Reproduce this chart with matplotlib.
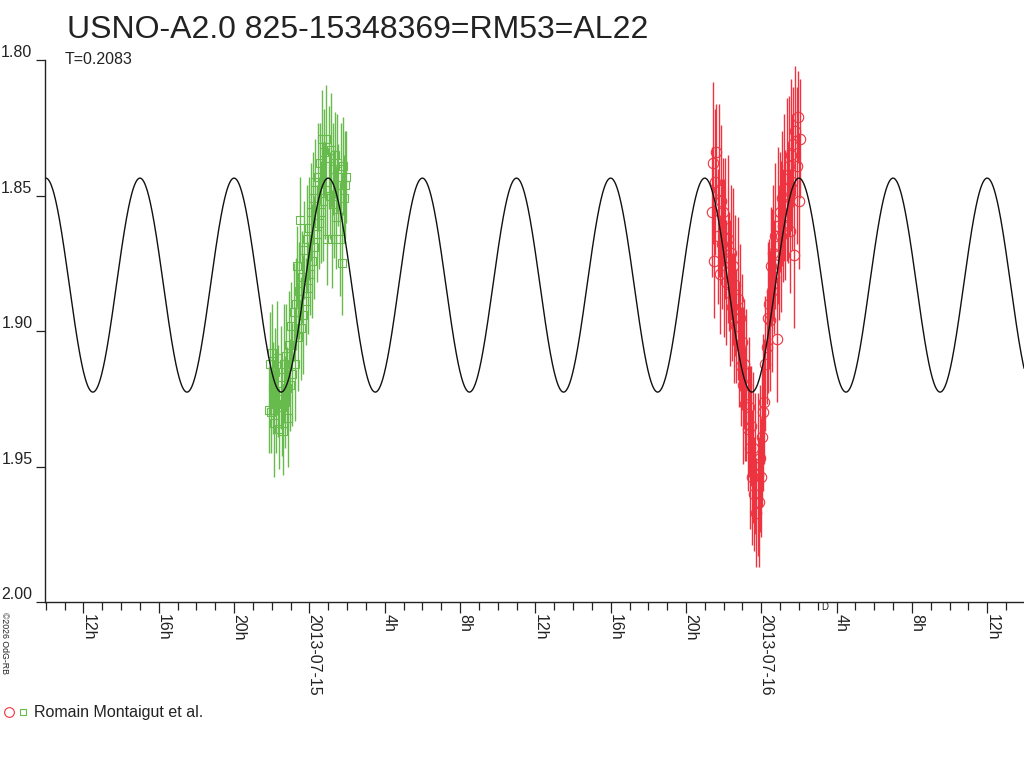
import numpy as np
import matplotlib
matplotlib.use("Agg")
import matplotlib.pyplot as plt
from matplotlib.ticker import FixedLocator
from matplotlib.lines import Line2D
from matplotlib.legend_handler import HandlerTuple

plt.rcParams['font.family'] = ['Liberation Sans', 'DejaVu Sans']

# ---------------- text ----------------
TITLE = "USNO-A2.0 825-15348369=RM53=AL22"
PERIOD_LABEL = "T=0.2083"
OBSERVER = "Romain Montaigut et al."
COPYRIGHT = "\u00a92026 OdG-RB"

# ---------------- model (sinusoid with period T) ----------------
period_days = 0.2083
model_mean = 1.8830
model_amp = 0.0395
model_peak_hour = 1.0   # hours after 2013-07-15 00:00 UT of a brightness maximum

# ---------------- data: hours after 2013-07-15 00:00 UT ----------------
green_t = [-2.17, -2.11, -2.05, -2.00, -1.94, -1.88, -1.82, -1.77, -1.71, -1.65,
           -1.59, -1.53, -1.48, -1.42, -1.36, -1.30, -1.24, -1.19, -1.13, -1.07,
           -1.01, -0.95, -0.90, -0.84, -0.78, -0.72, -0.66, -0.61, -0.55, -0.49,
           -0.43, -0.37, -0.32, -0.26, -0.20, -0.14, -0.08, -0.03, 0.03, 0.09,
           0.15, 0.21, 0.26, 0.32, 0.38, 0.44, 0.50, 0.55, 0.61, 0.67,
           0.73, 0.79, 0.84, 0.90, 0.96, 1.02, 1.08, 1.13, 1.19, 1.25,
           1.31, 1.37, 1.42, 1.48, 1.54, 1.60, 1.66, 1.71, 1.77, 1.83,
           1.89, 1.95]
green_mag = [1.929, 1.912, 1.930, 1.908, 1.921, 1.934, 1.915, 1.927, 1.910, 1.922,
             1.936, 1.917, 1.928, 1.937, 1.912, 1.926, 1.909, 1.921, 1.932, 1.905,
             1.920, 1.898, 1.916, 1.893, 1.912, 1.890, 1.876, 1.902, 1.885, 1.859,
             1.899, 1.880, 1.894, 1.870, 1.889, 1.866, 1.884, 1.862, 1.879, 1.856,
             1.874, 1.851, 1.869, 1.845, 1.864, 1.843, 1.860, 1.838, 1.856, 1.829,
             1.852, 1.834, 1.848, 1.829, 1.866, 1.836, 1.850, 1.833, 1.866, 1.840,
             1.853, 1.835, 1.858, 1.838, 1.846, 1.866, 1.840, 1.875, 1.839, 1.851,
             1.846, 1.843]
green_err = [0.016, 0.019, 0.015, 0.018, 0.017, 0.020, 0.016, 0.018, 0.021, 0.017,
             0.015, 0.019, 0.018, 0.016, 0.022, 0.017, 0.019, 0.015, 0.018, 0.020,
             0.017, 0.016, 0.019, 0.018, 0.021, 0.017, 0.015, 0.020, 0.018, 0.016,
             0.019, 0.017, 0.022, 0.018, 0.016, 0.020, 0.017, 0.019, 0.015, 0.018,
             0.021, 0.017, 0.019, 0.016, 0.018, 0.020, 0.017, 0.015, 0.019, 0.018,
             0.022, 0.016, 0.018, 0.020, 0.017, 0.019, 0.016, 0.021, 0.018, 0.017,
             0.020, 0.016, 0.019, 0.018, 0.015, 0.021, 0.017, 0.019, 0.018, 0.016,
             0.020, 0.017]

red_t = [21.38, 21.44, 21.50, 21.56, 21.62, 21.68, 21.74, 21.79, 21.85, 21.91,
         21.97, 22.03, 22.09, 22.15, 22.21, 22.27, 22.33, 22.39, 22.44, 22.50,
         22.56, 22.62, 22.68, 22.74, 22.80, 22.86, 22.92, 22.98, 23.04, 23.09,
         23.15, 23.21, 23.27, 23.33, 23.39, 23.45, 23.51, 23.57, 23.63, 23.69,
         23.74, 23.80, 23.86, 23.92, 23.98, 24.04, 24.10, 24.16, 24.22, 24.28,
         24.34, 24.39, 24.45, 24.51, 24.57, 24.63, 24.69, 24.75, 24.81, 24.87,
         24.93, 24.99, 25.04, 25.10, 25.16, 25.22, 25.28, 25.34, 25.40, 25.46,
         25.52, 25.58, 25.64, 25.69, 25.75, 25.81, 25.87, 25.93, 25.99, 26.05]
red_mag = [1.856, 1.838, 1.874, 1.845, 1.834, 1.865, 1.848, 1.879, 1.852, 1.868,
           1.856, 1.873, 1.862, 1.882, 1.866, 1.878, 1.886, 1.871, 1.891, 1.876,
           1.895, 1.883, 1.898, 1.888, 1.905, 1.895, 1.913, 1.904, 1.920, 1.912,
           1.927, 1.920, 1.936, 1.928, 1.943, 1.935, 1.954, 1.943, 1.960, 1.949,
           1.967, 1.953, 1.963, 1.947, 1.954, 1.939, 1.930, 1.926, 1.912, 1.906,
           1.895, 1.890, 1.896, 1.876, 1.885, 1.871, 1.880, 1.865, 1.903, 1.861,
           1.872, 1.856, 1.865, 1.851, 1.861, 1.847, 1.857, 1.844, 1.853, 1.839,
           1.863, 1.835, 1.845, 1.831, 1.872, 1.826, 1.839, 1.821, 1.852, 1.829]
red_err = [0.024, 0.030, 0.021, 0.027, 0.018, 0.025, 0.032, 0.022, 0.028, 0.024,
           0.020, 0.029, 0.026, 0.023, 0.031, 0.022, 0.027, 0.025, 0.020, 0.029,
           0.024, 0.026, 0.021, 0.030, 0.023, 0.027, 0.022, 0.025, 0.029, 0.024,
           0.021, 0.028, 0.023, 0.026, 0.030, 0.022, 0.025, 0.028, 0.021, 0.026,
           0.020, 0.030, 0.024, 0.027, 0.022, 0.026, 0.029, 0.023, 0.025, 0.021,
           0.028, 0.024, 0.026, 0.022, 0.030, 0.025, 0.021, 0.027, 0.023, 0.029,
           0.024, 0.022, 0.028, 0.025, 0.021, 0.027, 0.024, 0.030, 0.022, 0.026,
           0.023, 0.028, 0.025, 0.021, 0.027, 0.024, 0.029, 0.017, 0.025, 0.022]

# ---------------- axis ticks ----------------
x_major_hours = [-12, -8, -4, 0, 4, 8, 12, 16, 20, 24, 28, 32, 36]
x_major_labels = ["12h", "16h", "20h", "2013-07-15", "4h", "8h", "12h",
                  "16h", "20h", "2013-07-16", "4h", "8h", "12h"]
x_minor_hours = list(range(-14, 38))
y_ticks = [1.80, 1.85, 1.90, 1.95, 2.00]
y_labels = ["1.80", "1.85", "1.90", "1.95", "2.00"]
x_range = (-14.04, 37.95)
y_range = (2.00, 1.80)

GREEN = "#66bb4c"
RED = "#ee3340"
TXT = "#222222"

W, H = 1024, 768
fig = plt.figure(figsize=(W / 100, H / 100), dpi=100)
ax = fig.add_axes([45 / W, (H - 602) / H, (W - 45) / W, (602 - 60.3) / H])

# data
ax.errorbar(green_t, green_mag, yerr=green_err, fmt='s', ms=6, mfc='none',
            mec=GREEN, mew=0.8, ecolor=GREEN, elinewidth=1.0, capsize=0, zorder=2)
ax.errorbar(red_t, red_mag, yerr=red_err, fmt='o', ms=7.5, mfc='none',
            mec=RED, mew=0.8, ecolor=RED, elinewidth=1.0, capsize=0, zorder=2)

# model
tm = np.linspace(x_range[0], x_range[1], 3000)
period_h = period_days * 24.0
mm = model_mean - model_amp * np.cos(2 * np.pi * (tm - model_peak_hour) / period_h)
ax.plot(tm, mm, color='#111111', lw=1.0, zorder=3)

ax.set_xlim(*x_range)
ax.set_ylim(*y_range)

for s in ['top', 'right']:
    ax.spines[s].set_visible(False)
for s in ['left', 'bottom']:
    ax.spines[s].set_linewidth(1.0)
    ax.spines[s].set_color('#222222')

ax.xaxis.set_major_locator(FixedLocator(x_major_hours))
ax.xaxis.set_minor_locator(FixedLocator(x_minor_hours))
ax.set_xticks(x_major_hours, x_major_labels)
ax.set_yticks(y_ticks, y_labels)

ax.tick_params(axis='x', which='major', length=8, width=0.9, pad=0.5,
               labelsize=11.5, colors='#222222')
ax.tick_params(axis='x', which='minor', length=5.5, width=0.9, colors='#222222')
ax.tick_params(axis='y', which='major', length=6.5, width=0.9, pad=2.5,
               labelsize=11.5, colors='#222222')

for lbl in ax.get_xticklabels():
    lbl.set_rotation(-90)
    lbl.set_rotation_mode('anchor')
    lbl.set_ha('left')
    lbl.set_va('baseline')
for lbl in ax.get_yticklabels():
    lbl.set_va('bottom')

# small marker below the axis
ax.text(27.35, 2.0, "D", fontsize=7, color='#222222', ha='center', va='top',
        transform=ax.transData)

# titles
fig.text(67 / W, 1 - 38 / H, TITLE, fontsize=23, color=TXT, va='baseline', ha='left')
fig.text(65 / W, 1 - 63.5 / H, PERIOD_LABEL, fontsize=11.5, color=TXT,
         va='baseline', ha='left')
fig.text(0 / W, 1 - 612 / H, COPYRIGHT, fontsize=6.3, color=TXT, rotation=-90,
         va='top', ha='left')

# legend
h_red = Line2D([], [], ls='none', marker='o', ms=7, mfc='none', mec=RED, mew=0.8)
h_green = Line2D([], [], ls='none', marker='s', ms=5, mfc='none', mec=GREEN, mew=0.8)
fig.legend([(h_red, h_green)], [OBSERVER],
           handler_map={tuple: HandlerTuple(ndivide=None, pad=0.2)},
           loc='center left', bbox_to_anchor=(4 / W, 1 - 713 / H),
           frameon=False, fontsize=11.5, handlelength=1.5, handletextpad=0.35,
           borderpad=0, borderaxespad=0, labelcolor=TXT)

fig.savefig("out.png", dpi=100)
